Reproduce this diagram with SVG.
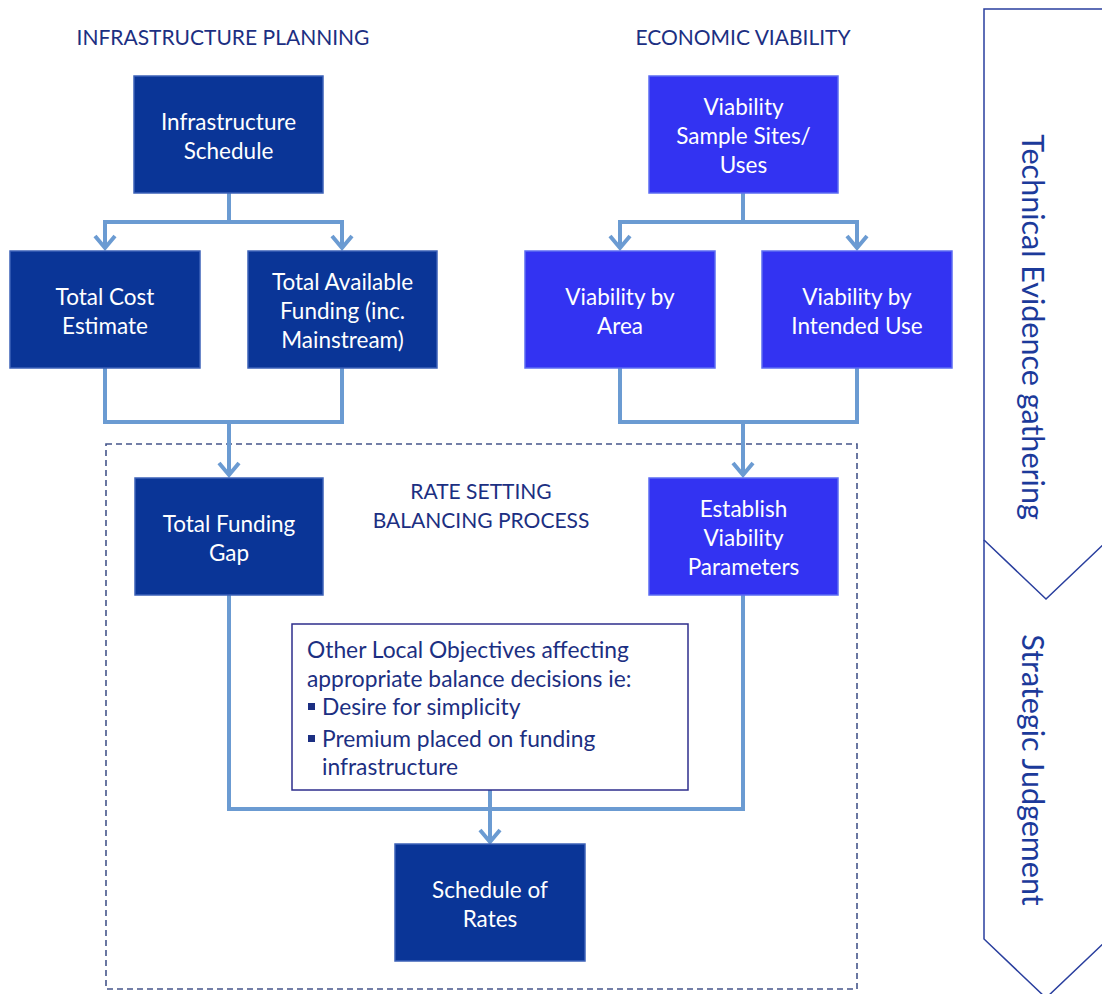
<svg xmlns="http://www.w3.org/2000/svg" width="1102" height="994" viewBox="0 0 1102 994">
<style>
.dark{fill:#0a3597;stroke:#3d62b8;stroke-width:1.5}
.bright{fill:#3333f2;stroke:#5c6cf2;stroke-width:1.5}
.bt{font-family:Lato,"Liberation Sans",sans-serif;font-size:22.5px;fill:#ffffff;text-anchor:middle}
.hd{font-family:Lato,"Liberation Sans",sans-serif;font-size:21px;fill:#1c2f82;text-anchor:middle}
.ot{font-family:Lato,"Liberation Sans",sans-serif;font-size:22.8px;fill:#1c2f82}
.side{font-family:Lato,"Liberation Sans",sans-serif;font-size:30.5px;fill:#1c3a9a;text-anchor:middle}
.conn{fill:none;stroke:#6b9bd2;stroke-width:4}
</style>
<defs>
<marker id="arr" markerUnits="userSpaceOnUse" viewBox="-16 -12 20 24" markerWidth="20" markerHeight="24" refX="0" refY="0" orient="auto">
<path d="M-12,-10 L0,0 L-12,10" fill="none" stroke="#6b9bd2" stroke-width="4"/>
</marker>
</defs>
<rect width="1102" height="994" fill="#ffffff"/>

<g id="headings">
<text class="hd" x="223" y="45">INFRASTRUCTURE PLANNING</text>
<text class="hd" x="743" y="45">ECONOMIC VIABILITY</text>
</g>

<g id="side-chevron">
<path d="M1102,9 H984 V540 L1046,599 L1108,540" fill="none" stroke="#2a3f9e" stroke-width="1.5"/>
<path d="M984,540 V939 L1046,998 L1108,939" fill="none" stroke="#2a3f9e" stroke-width="1.5"/>
<text class="side" transform="translate(1022,327) rotate(90)">Technical Evidence gathering</text>
<text class="side" transform="translate(1022,770) rotate(90)">Strategic Judgement</text>
</g>

<g id="balancing-area">
<rect x="106" y="444" width="751" height="545" fill="none" stroke="#45558a" stroke-width="1.6" stroke-dasharray="6,4"/>
<text class="hd" x="481" y="499">RATE SETTING</text>
<text class="hd" x="481" y="528">BALANCING PROCESS</text>
</g>

<g id="connectors">
<path class="conn" d="M229,193 V222 H105 V248" marker-end="url(#arr)"/>
<path class="conn" d="M229,222 H342 V248" marker-end="url(#arr)"/>
<path class="conn" d="M105,368 V422 H342 V368"/>
<path class="conn" d="M229,422 V475" marker-end="url(#arr)"/>
<path class="conn" d="M743,193 V222 H620 V248" marker-end="url(#arr)"/>
<path class="conn" d="M743,222 H857 V248" marker-end="url(#arr)"/>
<path class="conn" d="M620,368 V422 H857 V368"/>
<path class="conn" d="M743,422 V475" marker-end="url(#arr)"/>
<path class="conn" d="M229,595 V809 H743 V595"/>
<path class="conn" d="M490,790 V842" marker-end="url(#arr)"/>
</g>

<g id="infrastructure-schedule">
<rect class="dark" x="134" y="76" width="189" height="117"/>
<text class="bt" x="228.5" y="130">Infrastructure</text>
<text class="bt" x="228.5" y="159">Schedule</text>
</g>

<g id="total-cost-estimate">
<rect class="dark" x="10" y="251" width="190" height="117"/>
<text class="bt" x="105" y="305">Total Cost</text>
<text class="bt" x="105" y="334">Estimate</text>
</g>

<g id="total-available-funding">
<rect class="dark" x="248" y="251" width="189" height="117"/>
<text class="bt" x="342.5" y="290">Total Available</text>
<text class="bt" x="342.5" y="319">Funding (inc.</text>
<text class="bt" x="342.5" y="348">Mainstream)</text>
</g>

<g id="viability-sample-sites">
<rect class="bright" x="649" y="76" width="189" height="117"/>
<text class="bt" x="743.5" y="115">Viability</text>
<text class="bt" x="743.5" y="144">Sample Sites/</text>
<text class="bt" x="743.5" y="173">Uses</text>
</g>

<g id="viability-by-area">
<rect class="bright" x="525" y="251" width="190" height="117"/>
<text class="bt" x="620" y="305">Viability by</text>
<text class="bt" x="620" y="334">Area</text>
</g>

<g id="viability-by-intended-use">
<rect class="bright" x="762" y="251" width="190" height="117"/>
<text class="bt" x="857" y="305">Viability by</text>
<text class="bt" x="857" y="334">Intended Use</text>
</g>

<g id="total-funding-gap">
<rect class="dark" x="135" y="478" width="188" height="117"/>
<text class="bt" x="229" y="532">Total Funding</text>
<text class="bt" x="229" y="561">Gap</text>
</g>

<g id="establish-viability-parameters">
<rect class="bright" x="649" y="478" width="189" height="117"/>
<text class="bt" x="743.5" y="517">Establish</text>
<text class="bt" x="743.5" y="546">Viability</text>
<text class="bt" x="743.5" y="575">Parameters</text>
</g>

<g id="other-local-objectives">
<rect x="292" y="624" width="396" height="166" fill="#ffffff" stroke="#2e2e8c" stroke-width="1.5"/>
<text class="ot" x="307" y="658">Other Local Objectives affecting</text>
<text class="ot" x="307" y="687">appropriate balance decisions ie:</text>
<rect x="308" y="703" width="7" height="7" fill="#1c2f82"/>
<text class="ot" x="322" y="715">Desire for simplicity</text>
<rect x="308" y="735" width="7" height="7" fill="#1c2f82"/>
<text class="ot" x="322" y="747">Premium placed on funding</text>
<text class="ot" x="322" y="775">infrastructure</text>
</g>

<g id="schedule-of-rates">
<rect class="dark" x="395" y="844" width="190" height="117"/>
<text class="bt" x="490" y="898">Schedule of</text>
<text class="bt" x="490" y="927">Rates</text>
</g>
</svg>
